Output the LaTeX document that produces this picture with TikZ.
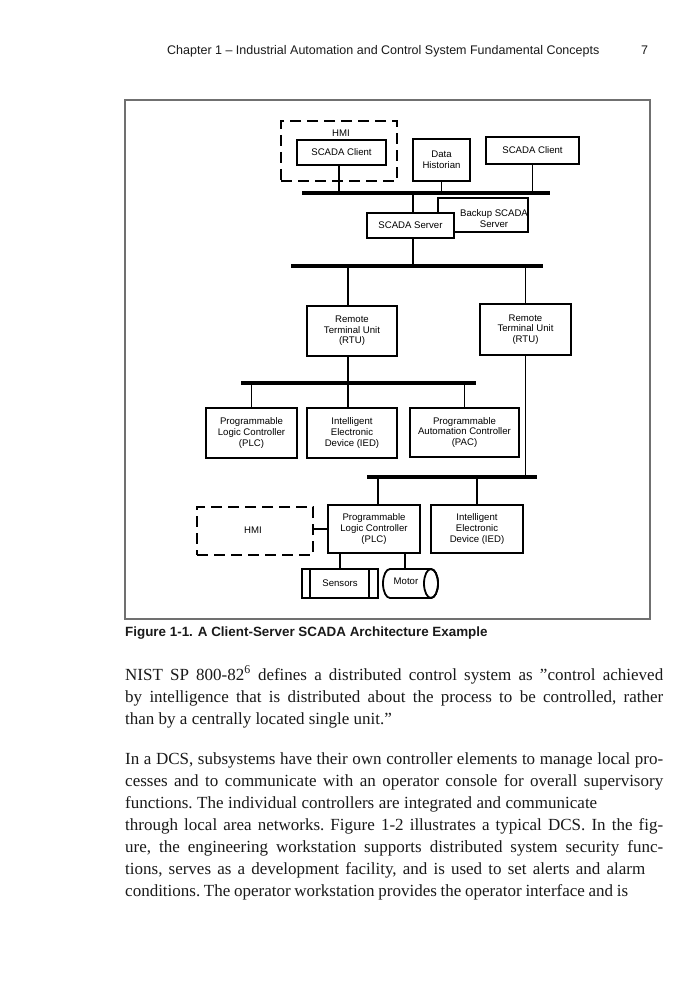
\documentclass[tikz,border=0pt]{standalone}
\usepackage{fontspec}
\setmainfont{Liberation Serif}
\newfontfamily\arialf{Liberation Sans}
\usetikzlibrary{calc}
\newcommand\figf{\arialf\fontsize{9.6}{10.6}\selectfont}
\newcommand\bodyf{\fontsize{17}{22}\selectfont\frenchspacing}
\definecolor{ink}{HTML}{1A1A1A}
\definecolor{framegray}{HTML}{707070}
\tikzset{
  box/.style={draw, line width=1.8pt, fill=white, align=center, inner sep=0pt, font=\figf},
  dbox/.style={draw, line width=1.8pt, dash pattern=on 11pt off 6pt, inner sep=0pt},
  lbl/.style={inner sep=0pt, font=\figf, align=center},
  bus/.style={line width=3.6pt},
  wire/.style={line width=1.8pt},
  bodyline/.style={anchor=base west, inner sep=0pt, font=\bodyf, text=ink},
}
\begin{document}
\begin{tikzpicture}[x=1pt, y=-1pt]
\useasboundingbox (0,0) rectangle (700,1000);
\fill[white] (0,0) rectangle (700,1000);

% header
\node[anchor=base west, inner sep=0pt, font=\arialf\fontsize{12.5}{15}\selectfont, text=ink] (hdr) at (167,55) {Chapter 1 – Industrial Automation and Control System Fundamental Concepts};
\node[anchor=base west, inner sep=0pt, font=\arialf\fontsize{12.5}{15}\selectfont, text=ink] (pg) at (641,55) {7};

% frame
\node[draw=framegray, line width=1.5pt, minimum width=525pt, minimum height=519pt, inner sep=0pt] (frame) at (387.5,359.5) {};

% top level
\node[dbox, minimum width=116pt, minimum height=60pt] (hmi1) at (339,151) {};
\node[lbl] (hmi1l) at (341,133) {HMI};
\node[box, minimum width=89pt, minimum height=25pt] (sc1) at (341.5,152.5) {SCADA Client};
\node[box, minimum width=57pt, minimum height=42pt] (dh) at (441.5,160) {Data\\Historian};
\node[box, minimum width=93pt, minimum height=27pt] (sc2) at (532.5,150.5) {SCADA Client};

\coordinate (b1w) at (302,193);
\coordinate (b1e) at (550,193);
\coordinate (b1a) at (339,193);
\coordinate (b1s) at (413,193);
\draw[bus] (b1w) -- (b1e);
\draw[wire] (sc1.south -| b1a) -- (b1a);
\draw[wire] (dh.south) -- (dh.south |- b1w);
\draw[wire] (sc2.south) -- (sc2.south |- b1w);

\node[box, minimum width=90pt, minimum height=34pt] (bk) at (483,215) {};
\node[lbl] (bkl) at (494,218.5) {Backup SCADA\\Server};
\node[box, minimum width=87pt, minimum height=25pt] (ss) at (410.5,225.5) {SCADA Server};
\draw[wire] (b1s) -- (ss.north -| b1s);

% second bus
\coordinate (b2w) at (291,266);
\coordinate (b2e) at (543,266);
\coordinate (b2s) at (413,266);
\coordinate (b2a) at (348,266);
\draw[bus] (b2w) -- (b2e);
\draw[wire] (ss.south -| b2s) -- (b2s);

\node[box, minimum width=90pt, minimum height=50pt] (rtu1) at (352,331) {Remote\\Terminal Unit\\(RTU)};
\node[box, minimum width=91pt, minimum height=51pt] (rtu2) at (525.5,329.5) {Remote\\Terminal Unit\\(RTU)};
\draw[wire] (b2a) -- (rtu1.north -| b2a);
\draw[wire] (rtu2.north) -- (rtu2.north |- b2w);

% third bus
\coordinate (b3w) at (241,383);
\coordinate (b3e) at (476,383);
\coordinate (b3a) at (348,383);
\draw[bus] (b3w) -- (b3e);
\draw[wire] (rtu1.south -| b3a) -- (b3a);

\node[box, minimum width=91pt, minimum height=50pt] (plc1) at (251.5,433) {Programmable\\Logic Controller\\(PLC)};
\node[box, minimum width=90pt, minimum height=50pt] (ied1) at (352,433) {Intelligent\\Electronic\\Device (IED)};
\node[box, minimum width=109pt, minimum height=49pt] (pac) at (464.5,432.5) {Programmable\\Automation Controller\\(PAC)};
\draw[wire] (plc1.north) -- (plc1.north |- b3w);
\draw[wire] (ied1.north -| b3a) -- (b3a);
\draw[wire] (pac.north) -- (pac.north |- b3w);

% fourth bus
\coordinate (b4w) at (367,477);
\coordinate (b4e) at (537,477);
\coordinate (b4a) at (378,477);
\draw[bus] (b4w) -- (b4e);
\draw[wire] (rtu2.south) -- (rtu2.south |- b4w);

\node[box, minimum width=92pt, minimum height=48pt] (plc2) at (374,529) {Programmable\\Logic Controller\\(PLC)};
\node[box, minimum width=92pt, minimum height=48pt] (ied2) at (477,529) {Intelligent\\Electronic\\Device (IED)};
\draw[wire] (b4a) -- (plc2.north -| b4a);
\draw[wire] (ied2.north) -- (ied2.north |- b4w);

\node[dbox, minimum width=116pt, minimum height=48pt] (hmi2) at (255,531) {};
\node[lbl] (hmi2l) at (253,530) {HMI};
\draw[wire] (hmi2.east |- plc2.west) -- (plc2.west);

% sensors
\node[box, minimum width=76pt, minimum height=29pt] (sens) at (340,583.5) {Sensors};
\draw[line width=1.8pt] ($(sens.north west)+(9,0)$) -- ($(sens.south west)+(9,0)$);
\draw[line width=1.8pt] ($(sens.north east)+(-10,0)$) -- ($(sens.south east)+(-10,0)$);
\draw[wire] (plc2.south -| sens.north) -- (sens.north);

% motor
\coordinate (mtop) at (405,569);
\draw[line width=1.8pt, fill=white] (431,569) -- (390,569)
  arc[start angle=270, end angle=90, x radius=7, y radius=14.5] -- (431,598)
  arc[start angle=90, end angle=-90, x radius=7, y radius=14.5];
\draw[line width=1.8pt] (431,583.5) ellipse[x radius=7, y radius=14.5];
\node[lbl] (motor) at (406,581.5) {Motor};
\draw[wire] (plc2.south -| mtop) -- (mtop);

% caption
\node[anchor=base west, inner sep=0pt, font=\arialf\bfseries\fontsize{13.4}{16}\selectfont, text=ink] (cap) at (125,636) {Figure 1-1. A Client-Server SCADA Architecture Example};

% body text
\node[bodyline] (l1) at (125,680) {\makebox[538pt][s]{NIST SP 800-82\textsuperscript{6} defines a distributed control system as "control achieved}};
\node[bodyline] (l2) at (125,702) {\makebox[538pt][s]{by intelligence that is distributed about the process to be controlled, rather}};
\node[bodyline] (l3) at (125,724) {than by a centrally located single unit."};
\node[bodyline] (l4) at (125,764) {\makebox[538pt][s]{In a DCS, subsystems have their own controller elements to manage local pro-}};
\node[bodyline] (l5) at (125,786) {\makebox[538pt][s]{cesses and to communicate with an operator console for overall supervisory}};
\node[bodyline] (l6) at (125,808) {\makebox[472pt][s]{functions. The individual controllers are integrated and communicate}};
\node[bodyline] (l7) at (125,830) {\makebox[538pt][s]{through local area networks. Figure 1-2 illustrates a typical DCS. In the fig-}};
\node[bodyline] (l8) at (125,852) {\makebox[538pt][s]{ure, the engineering workstation supports distributed system security func-}};
\node[bodyline] (l9) at (125,874) {\makebox[520pt][s]{tions, serves as a development facility, and is used to set alerts and alarm}};
\node[bodyline] (l10) at (125,896) {\makebox[503pt][s]{conditions. The operator workstation provides the operator interface and is}};
\end{tikzpicture}
\end{document}
